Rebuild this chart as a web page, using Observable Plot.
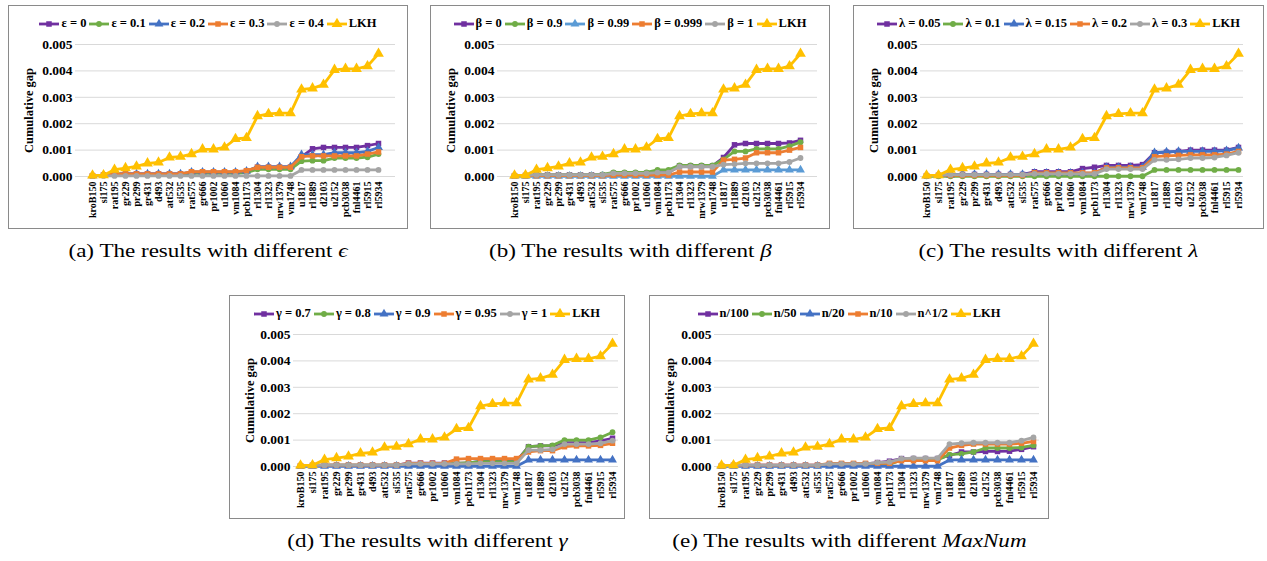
<!DOCTYPE html>
<html>
<head>
<meta charset="utf-8">
<script src="https://cdn.jsdelivr.net/npm/d3@7"></script>
<script src="https://cdn.jsdelivr.net/npm/@observablehq/plot@0.6"></script>
<style>
  html, body { margin: 0; padding: 0; background: #fff; }
  body { position: relative; width: 1267px; height: 561px; overflow: hidden; font-family: "Liberation Serif", "Times New Roman", serif; }
  .panel { position: absolute; box-sizing: border-box; border: 1.5px solid #8a8a8a; background: #fff; }
  .legend { position: absolute; left: 0; right: 0; top: 10px; display: flex; justify-content: center; align-items: center; gap: 3px; font-weight: bold; font-size: 12.5px; white-space: nowrap; }
  .legend .item { display: flex; align-items: center; gap: 2px; }
  .plotwrap { position: absolute; left: 0; top: 30px; }
  .caption { position: absolute; text-align: center; font-size: 18px; white-space: nowrap; }
  .caption span { display: inline-block; transform: scaleX(1.28); }
  .caption i { font-style: italic; }
</style>
</head>
<body>
<script>
// ---------------- data ----------------
const categories = ["kroB150","si175","rat195","gr229","pr299","gr431","d493","att532","si535","rat575","gr666","pr1002","u1060","vm1084","pcb1173","rl1304","rl1323","nrw1379","vm1748","u1817","rl1889","d2103","u2152","pcb3038","fnl4461","rl5915","rl5934"];
const yTicks = [0, 0.001, 0.002, 0.003, 0.004, 0.005];

const lkh = [0.00004,0.00005,0.00026,0.00032,0.00038,0.00050,0.00053,0.00072,0.00075,0.00085,0.00103,0.00103,0.00110,0.00142,0.00146,0.00229,0.00237,0.00240,0.00240,0.00330,0.00334,0.00348,0.00404,0.00408,0.00408,0.00418,0.00465];

// (a) epsilon
const eps0  = [0.00003,0.00005,0.00010,0.00010,0.00010,0.00010,0.00010,0.00010,0.00010,0.00015,0.00015,0.00015,0.00015,0.00015,0.00020,0.00035,0.00035,0.00035,0.00035,0.00075,0.00105,0.00110,0.00110,0.00110,0.00110,0.00117,0.00125];
const eps01 = [0.00003,0.00005,0.00008,0.00008,0.00008,0.00008,0.00008,0.00008,0.00008,0.00012,0.00012,0.00012,0.00012,0.00012,0.00015,0.00027,0.00027,0.00027,0.00027,0.00058,0.00060,0.00060,0.00070,0.00070,0.00070,0.00073,0.00085];
const eps02 = [0.00003,0.00005,0.00010,0.00010,0.00010,0.00010,0.00010,0.00010,0.00010,0.00017,0.00017,0.00017,0.00017,0.00017,0.00020,0.00037,0.00037,0.00037,0.00037,0.00083,0.00083,0.00083,0.00090,0.00090,0.00090,0.00095,0.00110];
const eps03 = [0.00003,0.00005,0.00010,0.00010,0.00010,0.00010,0.00010,0.00010,0.00010,0.00018,0.00018,0.00018,0.00018,0.00018,0.00022,0.00035,0.00035,0.00035,0.00035,0.00075,0.00078,0.00078,0.00078,0.00078,0.00078,0.00085,0.00093];
const eps04 = [0.00002,0.00002,0.00002,0.00002,0.00002,0.00002,0.00002,0.00002,0.00002,0.00002,0.00002,0.00002,0.00002,0.00002,0.00002,0.00002,0.00002,0.00002,0.00002,0.00025,0.00025,0.00025,0.00025,0.00025,0.00025,0.00025,0.00025];

// (b) beta
const beta0    = [0.00003,0.00004,0.00006,0.00006,0.00006,0.00006,0.00006,0.00006,0.00006,0.00012,0.00012,0.00012,0.00012,0.00015,0.00015,0.00040,0.00040,0.00040,0.00040,0.00072,0.00120,0.00125,0.00125,0.00125,0.00125,0.00127,0.00137];
const beta09   = [0.00003,0.00004,0.00006,0.00006,0.00006,0.00006,0.00006,0.00006,0.00008,0.00016,0.00016,0.00016,0.00016,0.00025,0.00025,0.00042,0.00042,0.00042,0.00042,0.00065,0.00095,0.00095,0.00105,0.00105,0.00105,0.00115,0.00130];
const beta099  = [0.00001,0.00001,0.00001,0.00001,0.00001,0.00001,0.00001,0.00001,0.00001,0.00001,0.00001,0.00001,0.00001,0.00001,0.00001,0.00001,0.00001,0.00001,0.00001,0.00025,0.00025,0.00025,0.00025,0.00025,0.00025,0.00025,0.00025];
const beta0999 = [0.00002,0.00003,0.00003,0.00003,0.00003,0.00003,0.00003,0.00003,0.00003,0.00005,0.00005,0.00005,0.00005,0.00005,0.00005,0.00017,0.00017,0.00017,0.00017,0.00062,0.00065,0.00070,0.00090,0.00090,0.00090,0.00100,0.00110];
const beta1    = [0.00003,0.00004,0.00006,0.00006,0.00006,0.00006,0.00006,0.00006,0.00006,0.00012,0.00012,0.00012,0.00012,0.00015,0.00015,0.00037,0.00037,0.00037,0.00037,0.00045,0.00047,0.00050,0.00050,0.00050,0.00050,0.00055,0.00070];

// (c) lambda
const lam005 = [0.00003,0.00004,0.00006,0.00008,0.00008,0.00008,0.00008,0.00008,0.00008,0.00018,0.00018,0.00018,0.00018,0.00030,0.00035,0.00042,0.00042,0.00042,0.00045,0.00090,0.00092,0.00095,0.00100,0.00100,0.00100,0.00100,0.00110];
const lam01  = [0.00001,0.00001,0.00001,0.00001,0.00001,0.00001,0.00001,0.00001,0.00001,0.00001,0.00001,0.00001,0.00001,0.00001,0.00001,0.00001,0.00001,0.00001,0.00001,0.00025,0.00025,0.00025,0.00025,0.00025,0.00025,0.00025,0.00025];
const lam015 = [0.00003,0.00004,0.00006,0.00008,0.00008,0.00008,0.00008,0.00008,0.00008,0.00013,0.00013,0.00013,0.00013,0.00013,0.00013,0.00035,0.00035,0.00035,0.00035,0.00090,0.00093,0.00095,0.00095,0.00095,0.00095,0.00098,0.00108];
const lam02  = [0.00003,0.00004,0.00004,0.00004,0.00004,0.00004,0.00004,0.00004,0.00004,0.00014,0.00014,0.00014,0.00014,0.00014,0.00014,0.00033,0.00033,0.00033,0.00033,0.00075,0.00078,0.00080,0.00082,0.00082,0.00082,0.00085,0.00095];
const lam03  = [0.00003,0.00004,0.00007,0.00007,0.00007,0.00007,0.00007,0.00007,0.00007,0.00010,0.00010,0.00010,0.00010,0.00010,0.00010,0.00028,0.00028,0.00028,0.00028,0.00063,0.00063,0.00065,0.00070,0.00070,0.00072,0.00080,0.00090];

// (d) gamma
const gam07  = [0.00003,0.00004,0.00005,0.00005,0.00005,0.00005,0.00005,0.00005,0.00005,0.00013,0.00013,0.00013,0.00013,0.00013,0.00013,0.00020,0.00020,0.00020,0.00020,0.00075,0.00078,0.00078,0.00090,0.00090,0.00090,0.00097,0.00107];
const gam08  = [0.00003,0.00004,0.00005,0.00005,0.00005,0.00005,0.00005,0.00005,0.00005,0.00010,0.00010,0.00010,0.00010,0.00012,0.00015,0.00018,0.00018,0.00018,0.00018,0.00075,0.00078,0.00080,0.00100,0.00100,0.00100,0.00110,0.00130];
const gam09  = [0.00001,0.00001,0.00001,0.00001,0.00001,0.00001,0.00001,0.00001,0.00001,0.00001,0.00001,0.00001,0.00001,0.00001,0.00001,0.00001,0.00001,0.00001,0.00001,0.00025,0.00025,0.00025,0.00025,0.00025,0.00025,0.00025,0.00025];
const gam095 = [0.00003,0.00004,0.00005,0.00005,0.00005,0.00005,0.00005,0.00005,0.00005,0.00012,0.00012,0.00012,0.00012,0.00028,0.00030,0.00030,0.00030,0.00030,0.00030,0.00055,0.00060,0.00060,0.00075,0.00078,0.00078,0.00080,0.00088];
const gam1   = [0.00003,0.00004,0.00005,0.00005,0.00005,0.00005,0.00005,0.00005,0.00005,0.00010,0.00010,0.00010,0.00010,0.00010,0.00010,0.00012,0.00012,0.00012,0.00012,0.00062,0.00062,0.00065,0.00085,0.00085,0.00085,0.00088,0.00098];

// (e) MaxNum
const n100  = [0.00003,0.00004,0.00005,0.00005,0.00005,0.00005,0.00005,0.00005,0.00005,0.00010,0.00010,0.00010,0.00010,0.00015,0.00020,0.00030,0.00030,0.00030,0.00030,0.00042,0.00055,0.00055,0.00057,0.00057,0.00058,0.00065,0.00075];
const n50   = [0.00003,0.00004,0.00004,0.00004,0.00004,0.00004,0.00004,0.00004,0.00004,0.00008,0.00008,0.00008,0.00008,0.00008,0.00008,0.00025,0.00025,0.00025,0.00025,0.00045,0.00048,0.00055,0.00070,0.00070,0.00070,0.00072,0.00080];
const n20   = [0.00001,0.00001,0.00001,0.00001,0.00001,0.00001,0.00001,0.00001,0.00001,0.00001,0.00001,0.00001,0.00001,0.00001,0.00001,0.00001,0.00001,0.00001,0.00001,0.00025,0.00025,0.00025,0.00025,0.00025,0.00025,0.00025,0.00025];
const n10   = [0.00003,0.00004,0.00005,0.00005,0.00005,0.00005,0.00005,0.00005,0.00005,0.00012,0.00012,0.00012,0.00012,0.00012,0.00012,0.00022,0.00022,0.00022,0.00022,0.00070,0.00080,0.00085,0.00085,0.00085,0.00085,0.00088,0.00095];
const nSqrt = [0.00003,0.00004,0.00005,0.00005,0.00005,0.00005,0.00005,0.00005,0.00005,0.00010,0.00010,0.00010,0.00010,0.00015,0.00017,0.00030,0.00032,0.00032,0.00032,0.00085,0.00088,0.00090,0.00090,0.00090,0.00090,0.00098,0.00110];

// ---------------- styling / layout ----------------
const PURPLE = "#7030A0", GREEN = "#70AD47", BLUE = "#4472C4", LBLUE = "#5B9BD5", ORANGE = "#ED7D31", GRAY = "#A5A5A5", GOLD = "#FFC000";
const SERIF = "'Liberation Serif', 'Times New Roman', serif";

const panels = [
  {left: 8, top: 5, width: 400, ml: 66, mr: 11, caption: '(a) The results with different <i>ϵ</i>',
   series: [["ε = 0", eps0, PURPLE, "square"], ["ε = 0.1", eps01, GREEN, "circle"], ["ε = 0.2", eps02, BLUE, "triangle"], ["ε = 0.3", eps03, ORANGE, "square"], ["ε = 0.4", eps04, GRAY, "circle"], ["LKH", lkh, GOLD, "triangle"]]},
  {left: 430, top: 5, width: 400, ml: 66, mr: 11, caption: '(b) The results with different <i>β</i>',
   series: [["β = 0", beta0, PURPLE, "square"], ["β = 0.9", beta09, GREEN, "circle"], ["β = 0.99", beta099, LBLUE, "triangle"], ["β = 0.999", beta0999, ORANGE, "square"], ["β = 1", beta1, GRAY, "circle"], ["LKH", lkh, GOLD, "triangle"]]},
  {left: 853, top: 5, width: 411, ml: 66, mr: 19, caption: '(c) The results with different <i>λ</i>',
   series: [["λ = 0.05", lam005, PURPLE, "square"], ["λ = 0.1", lam01, GREEN, "circle"], ["λ = 0.15", lam015, BLUE, "triangle"], ["λ = 0.2", lam02, ORANGE, "square"], ["λ = 0.3", lam03, GRAY, "circle"], ["LKH", lkh, GOLD, "triangle"]]},
  {left: 229, top: 295, width: 396, ml: 63, mr: 5, caption: '(d) The results with different <i>γ</i>',
   series: [["γ = 0.7", gam07, PURPLE, "square"], ["γ = 0.8", gam08, GREEN, "circle"], ["γ = 0.9", gam09, BLUE, "triangle"], ["γ = 0.95", gam095, ORANGE, "square"], ["γ = 1", gam1, GRAY, "circle"], ["LKH", lkh, GOLD, "triangle"]]},
  {left: 649, top: 295, width: 400, ml: 64, mr: 8, caption: '(e) The results with different <i>MaxNum</i>',
   series: [["n/100", n100, PURPLE, "square"], ["n/50", n50, GREEN, "circle"], ["n/20", n20, BLUE, "triangle"], ["n/10", n10, ORANGE, "square"], ["n^1/2", nSqrt, GRAY, "circle"], ["LKH", lkh, GOLD, "triangle"]]}
];

function symbolPath(sym, r) {
  const s = {square: d3.symbolSquare, circle: d3.symbolCircle, triangle: d3.symbolTriangle}[sym];
  return d3.symbol(s, Math.PI * r * r)().toString();
}
function markerR(sym, name) { return name === "LKH" ? 4.0 : (sym === "circle" ? 2.9 : (sym === "triangle" ? 3.3 : 3.1)); }

for (const p of panels) {
  const div = document.createElement("div");
  div.className = "panel";
  div.style.left = p.left + "px";
  div.style.top = p.top + "px";
  div.style.width = p.width + "px";
  div.style.height = "224px";
  document.body.appendChild(div);

  // legend
  const leg = document.createElement("div");
  leg.className = "legend";
  for (const [name, , color, sym] of p.series) {
    const it = document.createElement("div");
    it.className = "item";
    const r = markerR(sym, name);
    it.innerHTML = `<svg width="20" height="12"><line x1="0" x2="20" y1="6" y2="6" stroke="${color}" stroke-width="2.8"/><path transform="translate(10,6)" d="${symbolPath(sym, r)}" fill="${color}"/></svg><span>${name}</span>`;
    leg.appendChild(it);
  }
  div.appendChild(leg);

  const marks = [
    Plot.gridY(yTicks, {stroke: "#d9d9d9", strokeOpacity: 1, strokeWidth: 1}),
    Plot.axisY(yTicks, {tickSize: 0, tickPadding: 3, tickFormat: d3.format(".3f"), label: null, fontSize: 13.5, fontWeight: "bold"}),
    Plot.axisX({tickRotate: -90, tickSize: 0, tickPadding: 5, fontSize: 10, fontWeight: "bold", label: null}),
    Plot.text(["Cumulative gap"], {frameAnchor: "left", textAnchor: "middle", rotate: -90, dx: -(p.ml - 19), fontSize: 12.5, fontWeight: "bold", fill: "#000"})
  ];
  for (const [name, values, color, sym] of p.series) {
    const rows = categories.map((c, i) => ({cat: c, value: values[i]}));
    marks.push(Plot.line(rows, {x: "cat", y: "value", stroke: color, strokeWidth: 2.8}));
    marks.push(Plot.dot(rows, {x: "cat", y: "value", symbol: sym, fill: color, stroke: "none", r: markerR(sym, name)}));
  }

  const chart = Plot.plot({
    width: p.width - 3,
    height: 192,
    marginTop: 8,
    marginBottom: 52,
    marginLeft: p.ml,
    marginRight: p.mr,
    style: {fontFamily: SERIF, fontWeight: "bold", color: "#000", background: "transparent", overflow: "visible"},
    x: {type: "point", domain: categories, padding: 0.35, axis: null},
    y: {domain: [0, 0.005], axis: null},
    marks
  });
  const wrap = document.createElement("div");
  wrap.className = "plotwrap";
  wrap.appendChild(chart);
  div.appendChild(wrap);

  const cap = document.createElement("div");
  cap.className = "caption";
  cap.style.left = (p.left - 50) + "px";
  cap.style.width = (p.width + 100) + "px";
  cap.style.top = (p.top + 236) + "px";
  cap.innerHTML = `<span>${p.caption}</span>`;
  document.body.appendChild(cap);
}
</script>
</body>
</html>
